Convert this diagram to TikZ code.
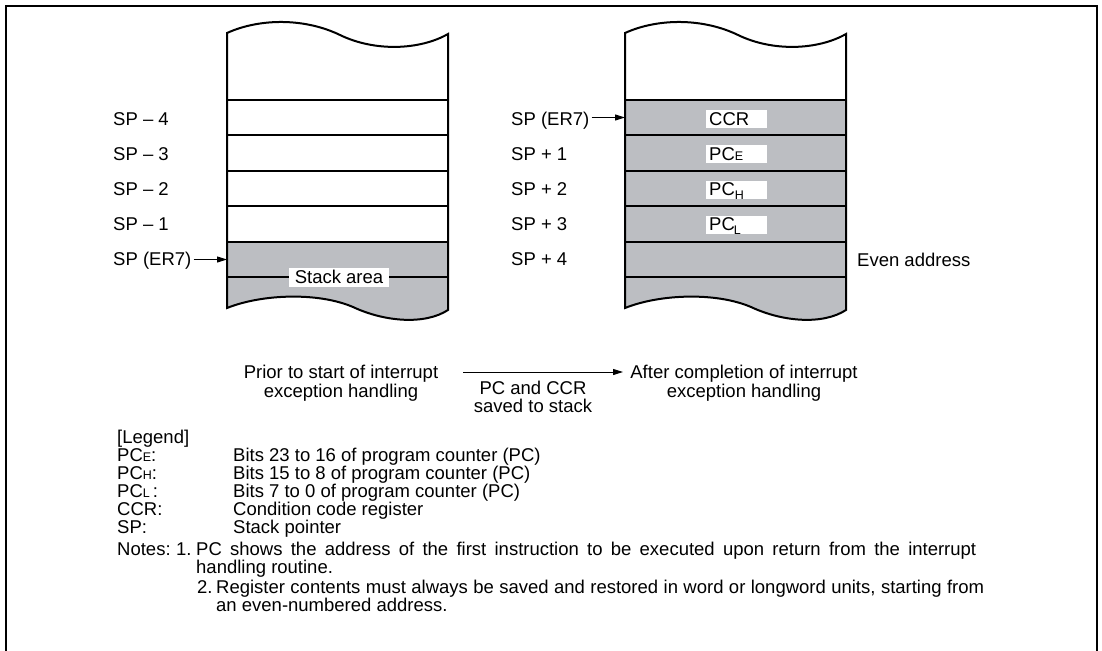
\documentclass[tikz,border=0pt]{standalone}
\usepackage{fontspec}
\setmainfont{Liberation Sans}
\usetikzlibrary{arrows.meta}
\definecolor{stackgray}{RGB}{188,190,194}
\newcommand{\smallsub}[1]{{\fontsize{12.5}{12.5}\selectfont #1}}
\begin{document}
\begin{tikzpicture}[x=1pt,y=-1pt,
  font=\fontsize{18.5}{21}\selectfont,
  lbl/.style={anchor=base west, inner sep=0pt},
  ctr/.style={anchor=base, inner sep=0pt},
  colline/.style={line width=1.1pt},
  coledge/.style={line width=2pt},
  regbox/.style={anchor=base west, fill=white, inner xsep=3pt, inner ysep=0pt,
    text height=15pt, text depth=3pt, text width=55pt, align=left},
  arr/.style={line width=1pt, -{Triangle[length=10pt,width=6pt]}}]
\useasboundingbox (0,0) rectangle (1102,650);
\begin{scope}
\clip (0,0) rectangle (1102,650);
\draw[line width=2.2pt] (6,670) -- (6,6) -- (1097,6) -- (1097,670);
\end{scope}

% ---------- left column ----------
\fill[stackgray] (227,242) -- (227,308) .. controls (262,294) and (318,292) .. (353,307)
  .. controls (385,322) and (425,325) .. (448,310) -- (448,242) -- cycle;
\foreach \yy in {100,135,171,206,242,277}
  \draw[colline] (227,\yy) -- (448,\yy);
\draw[coledge] (227,33) .. controls (260,18) and (305,18) .. (340,35)
  .. controls (375,52) and (420,50) .. (448,34) -- (448,310)
  .. controls (425,325) and (385,322) .. (353,307)
  .. controls (318,292) and (262,294) .. (227,308) -- cycle;
\node[fill=white, inner xsep=6pt, inner ysep=0pt, text height=15pt, text depth=4pt, anchor=base]
  (stackarea) at (339,283) {Stack area};

% ---------- right column ----------
\begin{scope}[xshift=398pt]
\fill[stackgray] (227,100) -- (227,308) .. controls (262,294) and (318,292) .. (353,307)
  .. controls (385,322) and (425,325) .. (448,310) -- (448,100) -- cycle;
\foreach \yy in {100,135,171,206,242,277}
  \draw[colline] (227,\yy) -- (448,\yy);
\draw[coledge] (227,33) .. controls (260,18) and (305,18) .. (340,35)
  .. controls (375,52) and (420,50) .. (448,34) -- (448,310)
  .. controls (425,325) and (385,322) .. (353,307)
  .. controls (318,292) and (262,294) .. (227,308) -- cycle;
\end{scope}
\node[regbox] (ccr) at (706,125) {CCR};
\node[regbox] (pce) at (706,160) {PC\smallsub{E}};
\node[regbox] (pch) at (706,195.5) {PC\raisebox{-3.5pt}{\smallsub{H}}};
\node[regbox] (pcl) at (706,230.5) {PC\kern-1pt\raisebox{-3.5pt}{\smallsub{L}}};

% ---------- left labels ----------
\node[lbl] (lm4) at (113,125) {SP – 4};
\node[lbl] (lm3) at (113,160) {SP – 3};
\node[lbl] (lm2) at (113,195) {SP – 2};
\node[lbl] (lm1) at (113,230) {SP – 1};
\node[lbl] (lsp) at (113,265) {SP (ER7)};
\coordinate (lcol) at (227,259.5);
\draw[arr] (lsp.east |- lcol) ++(2,0) coordinate (lspe) -- (lcol);

% ---------- right labels ----------
\node[lbl] (rsp) at (511,125) {SP (ER7)};
\node[lbl] (rp1) at (511,160) {SP + 1};
\node[lbl] (rp2) at (511,195) {SP + 2};
\node[lbl] (rp3) at (511,230) {SP + 3};
\node[lbl] (rp4) at (511,265) {SP + 4};
\coordinate (rcol) at (625,117.5);
\draw[arr] (rsp.east |- rcol) ++(2,0) coordinate (rspe) -- (rcol);
\node[lbl] (even) at (857,266) {Even address};

% ---------- captions ----------
\node[ctr] (prior1) at (341,378) {Prior to start of interrupt};
\node[ctr] (prior2) at (341,397) {exception handling};
\node[ctr] (after1) at (744,378) {After completion of interrupt};
\node[ctr] (after2) at (744,397) {exception handling};
\node[ctr] (pcccr1) at (533,394) {PC and CCR};
\node[ctr] (pcccr2) at (533,412) {saved to stack};
\coordinate (arrs) at (463,372);
\coordinate (arre) at (623,372);
\draw[arr] (arrs) -- (arre);

% ---------- legend ----------
\node[lbl] (leg) at (117,443) {[Legend]};
\node[lbl] (k1) at (117,461) {PC\smallsub{E}:};
\node[lbl] (v1) at (233,461) {Bits 23 to 16 of program counter (PC)};
\node[lbl] (k2) at (117,479) {PC\smallsub{H}:};
\node[lbl] (v2) at (233,479) {Bits 15 to 8 of program counter (PC)};
\node[lbl] (k3) at (117,497) {PC\smallsub{L}\,:};
\node[lbl] (v3) at (233,497) {Bits 7 to 0 of program counter (PC)};
\node[lbl] (k4) at (117,515) {CCR:};
\node[lbl] (v4) at (233,515) {Condition code register};
\node[lbl] (k5) at (117,533) {SP:};
\node[lbl] (v5) at (233,533) {Stack pointer};

% ---------- notes ----------
\node[lbl] (notes) at (117,555) {Notes:};
\node[lbl] (n1) at (176,555) {1.};
\node[lbl] (n1a) at (196,555) {\makebox[780pt][s]{PC shows the address of the first instruction to be executed upon return from the interrupt}};
\node[lbl] (n1b) at (196,573) {handling routine.};
\node[lbl] (n2) at (197,593) {2.};
\node[lbl] (n2a) at (216,593) {\makebox[768pt][s]{Register contents must always be saved and restored in word or longword units, starting from}};
\node[lbl] (n2b) at (216,611) {an even-numbered address.};
\end{tikzpicture}
\end{document}
